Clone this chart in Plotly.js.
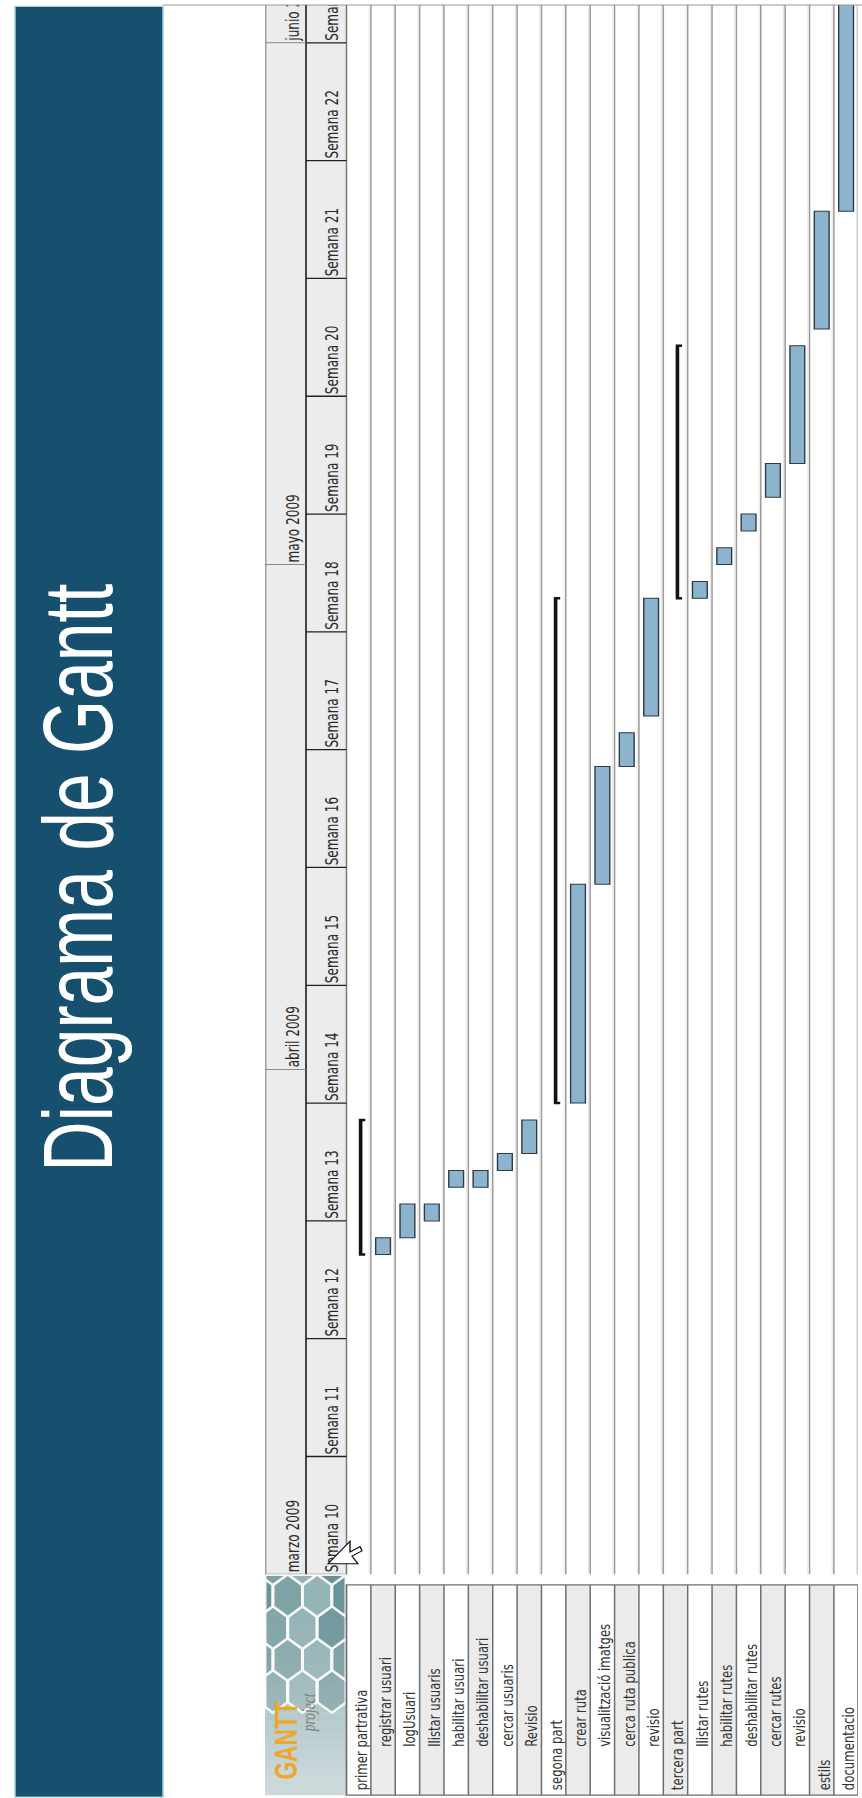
<!DOCTYPE html>
<html><head><meta charset="utf-8">
<script src="https://cdn.plot.ly/plotly-3.0.1.min.js"></script>
<style>
html,body{margin:0;padding:0;background:#fff;width:862px;height:1798px;overflow:hidden;}
#wrap{position:absolute;left:0;top:0;width:2532px;height:862px;transform-origin:0 0;}
</style></head><body><div id="wrap"><div id="chart"></div></div>
<script>
// ---------------- data ----------------
const titleText = 'Diagrama de Gantt';
const tasks = ['primer partrativa','registrar usuari','logUsuari','llistar usuaris','habilitar usuari','deshabilitar usuari','cercar usuaris','Revisio','segona part','crear ruta','visualització imatges','cerca ruta publica','revisio','tercera part','llistar rutes','habilitar rutes','deshabilitar rutes','cercar rutes','revisio','estils','documentacio'];
const taskLevel = [0,1,1,1,1,1,1,1,0,1,1,1,1,0,1,1,1,1,1,0,0];
const taskStart = ['2009-03-21','2009-03-21','2009-03-22','2009-03-23','2009-03-25','2009-03-25','2009-03-26','2009-03-27','2009-03-30','2009-03-30','2009-04-12','2009-04-19','2009-04-22','2009-04-29','2009-04-29','2009-05-01','2009-05-03','2009-05-05','2009-05-07','2009-05-15','2009-05-22'];
const taskEnd = ['2009-03-29','2009-03-22','2009-03-24','2009-03-24','2009-03-26','2009-03-26','2009-03-27','2009-03-29','2009-04-29','2009-04-12','2009-04-19','2009-04-21','2009-04-29','2009-05-14','2009-04-30','2009-05-02','2009-05-04','2009-05-07','2009-05-14','2009-05-22','2009-06-05'];
const summaryTask = [true,false,false,false,false,false,false,false,true,false,false,false,false,true,false,false,false,false,false,false,false];
const weekLabels = ['Semana 10','Semana 11','Semana 12','Semana 13','Semana 14','Semana 15','Semana 16','Semana 17','Semana 18','Semana 19','Semana 20','Semana 21','Semana 22','Semana 23'];
const weekStarts = ['2009-03-02','2009-03-09','2009-03-16','2009-03-23','2009-03-30','2009-04-06','2009-04-13','2009-04-20','2009-04-27','2009-05-04','2009-05-11','2009-05-18','2009-05-25','2009-06-01'];
const monthLabels = ['marzo 2009','abril 2009','mayo 2009','junio 2009'];
const monthStarts = ['2009-03-01','2009-04-01','2009-05-01','2009-06-01'];
const viewStart = '2009-03-02';
const viewEnd = '2009-06-03 06:00';

// ---------------- geometry (landscape, later rotated) ----------------
const W = 2532, H = 862, SQ = 1798 / W;
document.getElementById('wrap').style.transform = 'matrix(0,' + (-SQ) + ',1,0,0,1798)';
const M = {l: 315, r: 7, t: 265, b: 4, pad: 0};
const PW = W - M.l - M.r, PH = H - M.t - M.b;
const ROW = 24.37;
const yTop = -0.5 - (346.5 - M.t) / ROW;
const yBot = yTop + PH / ROW;
const yWeekTop = -0.5 - (346.5 - 306) / ROW;
const pX = ux => (ux - M.l) / PW;
const pY = ly => (H - M.b - ly) / PH;
const DAY = 864e5;
function ms(s){const [d,t]=s.split(' ');const [Y,Mo,D]=d.split('-').map(Number);let h=0,mi=0;if(t){[h,mi]=t.split(':').map(Number);}return Date.UTC(Y,Mo-1,D,h,mi);}
function iso(v){return new Date(v).toISOString().slice(0,19).replace('T',' ');}
const pxPerDay = PW / ((ms(viewEnd) - ms(viewStart)) / DAY);
const labelOff = 3 / pxPerDay * DAY;

const shapes = [];
const annotations = [];

// title bar
shapes.push({type:'rect', xref:'paper', yref:'paper', x0:pX(1.5), x1:pX(2523), y0:pY(163), y1:pY(15), fillcolor:'#17506f', line:{color:'#9fd0df', width:1.5}, layer:'below'});
annotations.push({xref:'paper', yref:'paper', x:pX(1296), y:pY(78), xanchor:'center', yanchor:'middle', text:titleText, showarrow:false, font:{family:'Liberation Sans, Arial, sans-serif', size:98, color:'#ffffff'}});
// top border line of the screenshot
shapes.push({type:'line', xref:'paper', yref:'paper', x0:1, x1:1, y0:pY(163), y1:pY(862), line:{color:'#9a9a9a', width:1.5}});

// header backgrounds
shapes.push({type:'rect', xref:'paper', yref:'y', x0:0, x1:1, y0:yTop, y1:-0.5, fillcolor:'#ececec', line:{width:0}, layer:'below'});
shapes.push({type:'line', xref:'paper', yref:'y', x0:0, x1:1, y0:yTop+0.03, y1:yTop+0.03, line:{color:'#a0a0a0', width:1.5}});
shapes.push({type:'line', xref:'paper', yref:'y', x0:0, x1:1, y0:yWeekTop, y1:yWeekTop, line:{color:'#333', width:1.8}});
shapes.push({type:'line', xref:'paper', yref:'y', x0:0, x1:1, y0:-0.5, y1:-0.5, line:{color:'#777', width:1.5}});
// header start edge
shapes.push({type:'line', xref:'x', yref:'y', x0:viewStart, x1:viewStart, y0:yTop, y1:-0.5, line:{color:'#777', width:1.5}});
// month separators
monthStarts.forEach(m => { if (ms(m) > ms(viewStart)) shapes.push({type:'line', xref:'x', yref:'y', x0:m, x1:m, y0:yTop, y1:yWeekTop, line:{color:'#8a8a8a', width:1.5}}); });
// week separators
weekStarts.forEach(w => { if (ms(w) > ms(viewStart)) shapes.push({type:'line', xref:'x', yref:'y', x0:w, x1:w, y0:yWeekTop, y1:-0.5, line:{color:'#222', width:1.8}}); });
// grid row lines
for (let i = 0; i < tasks.length; i++) {
  shapes.push({type:'line', xref:'paper', yref:'y', x0:0, x1:1, y0:i+0.5, y1:i+0.5, line:{color:'#9a9a9a', width:1.5}, layer:'below'});
  shapes.push({type:'line', xref:'paper', yref:'y', x0:0, x1:1, y0:i+0.43, y1:i+0.43, line:{color:'#e0e0e0', width:1}, layer:'below'});
}

// task table (left of the grid)
const tL = 4, tR = 300, indent = 61;
tasks.forEach((t, i) => {
  if (i % 2 === 1) shapes.push({type:'rect', xref:'paper', yref:'y', x0:pX(tL), x1:pX(tR), y0:i-0.5, y1:i+0.5, fillcolor:'#ebebeb', line:{width:0}, layer:'below'});
  shapes.push({type:'line', xref:'paper', yref:'y', x0:pX(tL), x1:pX(tR), y0:i+0.5, y1:i+0.5, line:{color:'#6e6e6e', width:1.5}});
  annotations.push({xref:'paper', yref:'y', x:pX(9 + indent * taskLevel[i]), y:i+0.1, xanchor:'left', yanchor:'middle', text:t, showarrow:false, font:{family:'DejaVu Sans, sans-serif', size:16.5, color:'#333'}});
});
shapes.push({type:'rect', xref:'paper', yref:'y', x0:pX(tL), x1:pX(tR), y0:-0.5, y1:tasks.length-0.5, line:{color:'#6e6e6e', width:1.7}, fillcolor:'rgba(0,0,0,0)'});

// GanttProject logo
const lgL = 4, lgR = 314, lgT = 265, lgB = 346;
const NS = 24;
for (let k = 0; k < NS; k++) {
  const f = k / (NS - 1);
  const c0 = [205,218,220], c1 = [140,172,175];
  const col = 'rgb(' + c0.map((v, j) => Math.round(v + (c1[j] - v) * f)).join(',') + ')';
  shapes.push({type:'rect', xref:'paper', yref:'paper', x0:pX(lgL + (lgR - lgL) * k / NS), x1:pX(lgL + (lgR - lgL) * (k + 1) / NS + 0.5), y0:pY(lgB), y1:pY(lgT), fillcolor:col, line:{width:0}, layer:'below'});
}
function clipPoly(pts, xmin, xmax, ymin, ymax) {
  const edges = [[p=>p[0]>=xmin,(a,b)=>{const t=(xmin-a[0])/(b[0]-a[0]);return [xmin,a[1]+t*(b[1]-a[1])];}],
                 [p=>p[0]<=xmax,(a,b)=>{const t=(xmax-a[0])/(b[0]-a[0]);return [xmax,a[1]+t*(b[1]-a[1])];}],
                 [p=>p[1]>=ymin,(a,b)=>{const t=(ymin-a[1])/(b[1]-a[1]);return [a[0]+t*(b[0]-a[0]),ymin];}],
                 [p=>p[1]<=ymax,(a,b)=>{const t=(ymax-a[1])/(b[1]-a[1]);return [a[0]+t*(b[0]-a[0]),ymax];}]];
  let out = pts;
  edges.forEach(([inside, inter]) => {
    const inp = out; out = [];
    for (let i = 0; i < inp.length; i++) {
      const cur = inp[i], prev = inp[(i + inp.length - 1) % inp.length];
      if (inside(cur)) { if (!inside(prev)) out.push(inter(prev, cur)); out.push(cur); }
      else if (inside(prev)) out.push(inter(prev, cur));
    }
  });
  return out;
}
const hrx = 30, hry = 17;
const hexShades = [[125,160,164],[104,144,149],[150,180,183]];
for (let ci = 0; ci < 8; ci++) {
  for (let ri = -1; ri < 4; ri++) {
    const cx = 150 + ci * 1.5 * hrx, cy = lgT + 8 + ri * Math.sqrt(3) * hry + (ci % 2 ? Math.sqrt(3) / 2 * hry : 0);
    const pts = [];
    for (let a = 0; a < 6; a++) pts.push([cx + hrx * Math.cos(a * Math.PI / 3), cy + hry * Math.sin(a * Math.PI / 3)]);
    const cp = clipPoly(pts, Math.max(lgL, 120), lgR, lgT, lgB);
    if (cp.length < 3) continue;
    const f = Math.min(1, Math.max(0, (cx - 130) / 180));
    const shade = (((ci * 3 + ri * 5) % 3) + 3) % 3;
    const base = hexShades[shade];
    const col = 'rgba(' + base.join(',') + ',' + (0.35 + 0.65 * f).toFixed(2) + ')';
    const path = 'M' + cp.map(p => pX(p[0]).toFixed(5) + ',' + pY(p[1]).toFixed(5)).join('L') + 'Z';
    shapes.push({type:'path', xref:'paper', yref:'paper', path:path, fillcolor:col, line:{color:'rgba(255,255,255,0.9)', width:3}, layer:'below'});
  }
}
annotations.push({xref:'paper', yref:'paper', x:pX(24), y:pY(286), xanchor:'left', yanchor:'middle', text:'<b>GANTT</b>', showarrow:false, font:{family:'Liberation Sans, Arial, sans-serif', size:32, color:'#f0a62a'}});
annotations.push({xref:'paper', yref:'paper', x:pX(150), y:pY(308), xanchor:'right', yanchor:'middle', text:'<i>project</i>', showarrow:false, font:{family:'Liberation Serif, serif', size:19, color:'#7d7d7d'}});

// mouse pointer (screen capture artefact)
const cur = [[0,0],[0,30],[7,24],[12,34],[16,32],[11,22],[21,22]];
const cx0 = 330, cy0 = 328;
shapes.push({type:'path', xref:'paper', yref:'paper', path:'M' + cur.map(p => pX(cx0 + p[0] * 1.5).toFixed(5) + ',' + pY(cy0 + p[1]).toFixed(5)).join('L') + 'Z', fillcolor:'#ffffff', line:{color:'#111', width:1.4}});

// ---------------- traces ----------------
const barIdx = tasks.map((t, i) => i).filter(i => !summaryTask[i]);
const bars = {type:'bar', orientation:'h', y:barIdx, base:barIdx.map(i => taskStart[i]), x:barIdx.map(i => ms(taskEnd[i]) - ms(taskStart[i])), width:0.607,
  marker:{color:'#8db4cf', line:{color:'#2c3b45', width:1.4}}, hoverinfo:'skip'};
const bx = [], by = [];
tasks.forEach((t, i) => { if (summaryTask[i]) { bx.push(taskStart[i], taskStart[i], taskEnd[i], taskEnd[i], null); by.push(i + 0.27, i + 0.08, i + 0.08, i + 0.27, null); } });
const brackets = {type:'scatter', mode:'lines', x:bx, y:by, line:{color:'#111', width:3.6}, hoverinfo:'skip', cliponaxis:true};
const weekText = {type:'scatter', mode:'text', x:weekStarts.map(w => iso(ms(w) + labelOff)), y:weekStarts.map(() => -1.033), text:weekLabels, textposition:'middle right', textfont:{family:'DejaVu Sans, sans-serif', size:17, color:'#2a2a2a'}, cliponaxis:true, hoverinfo:'skip'};
const monthText = {type:'scatter', mode:'text', x:monthStarts.map(m => iso(Math.max(ms(m), ms(viewStart)) + labelOff)), y:monthStarts.map(() => -2.613), text:monthLabels, textposition:'middle right', textfont:{family:'DejaVu Sans, sans-serif', size:17, color:'#2a2a2a'}, cliponaxis:true, hoverinfo:'skip'};

const layout = {width:W, height:H, margin:M, paper_bgcolor:'#fff', plot_bgcolor:'rgba(0,0,0,0)', showlegend:false,
  xaxis:{type:'date', range:[viewStart, viewEnd], showgrid:false, zeroline:false, showticklabels:false, showline:false, ticks:'', fixedrange:true},
  yaxis:{range:[yBot, yTop], showgrid:false, zeroline:false, showticklabels:false, showline:false, ticks:'', fixedrange:true},
  shapes:shapes, annotations:annotations};
Plotly.newPlot('chart', [bars, brackets, weekText, monthText], layout, {staticPlot:true, displayModeBar:false});
</script></body></html>
